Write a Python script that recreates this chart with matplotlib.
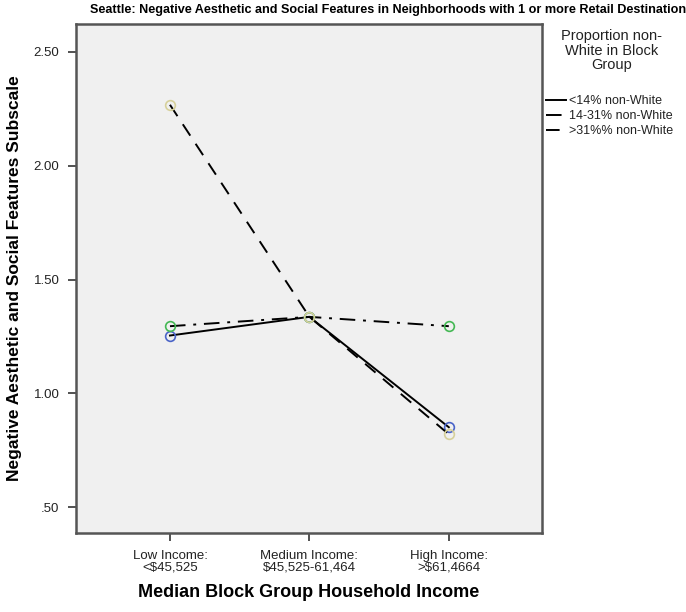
import matplotlib.pyplot as plt

plt.rcParams['font.family'] = ['Liberation Sans', 'DejaVu Sans']

# данные
categories = ["Low Income:\n<$45,525", "Medium Income:\n$45,525-61,464", "High Income:\n>$61,4664"]
groups = ["<14% non-White", "14-31% non-White", ">31%% non-White"]
under_14 = [1.254, 1.336, 0.851]
from_14_to_31 = [1.295, 1.336, 1.295]
over_31 = [2.268, 1.336, 0.820]
y_ticks = [0.5, 1.0, 1.5, 2.0, 2.5]
y_tick_labels = [".50", "1.00", "1.50", "2.00", "2.50"]

series = [under_14, from_14_to_31, over_31]
line_styles = ['-', (0, (8, 4, 1.5, 4)), (0, (7, 5))]
marker_colors = ['#4a64c8', '#44b854', '#d6d09a']

fig = plt.figure(figsize=(6.86, 6.12), dpi=100)
ax = fig.add_axes([0.1108, 0.129, 0.679, 0.8318])
ax.set_facecolor('#f0f0f0')

x = list(range(len(categories)))
handles = []
for vals, ls, mc, name in zip(series, line_styles, marker_colors, groups):
    line, = ax.plot(x, vals, color='black', linestyle=ls, linewidth=1.4, label=name)
    ax.plot(x, vals, linestyle='none', marker='o', markersize=7, markerfacecolor='none',
            markeredgecolor=mc, markeredgewidth=1.2)
    handles.append(line)

ax.set_xlim(-0.674, 2.667)
ax.set_ylim(0.386, 2.623)
ax.set_xticks(x)
ax.set_xticklabels(categories, fontsize=9.5, color='#222222', linespacing=0.95)
ax.set_yticks(y_ticks)
ax.set_yticklabels(y_tick_labels, fontsize=9.5, color='#222222')
ax.tick_params(axis='both', length=6, width=1.2, color='#333333', pad=6)
for s in ax.spines.values():
    s.set_linewidth(1.8)
    s.set_color('#555555')

ax.set_xlabel("Median Block Group Household Income", fontsize=13, fontweight='bold', labelpad=8)
ax.set_ylabel("Negative Aesthetic and Social Features Subscale", fontsize=12.5, fontweight='bold', labelpad=8)

fig.text(0.565, 0.983, "Seattle: Negative Aesthetic and Social Features in Neighborhoods with 1 or more Retail Destination",
         ha='center', va='center', fontsize=9.1, fontweight='bold')

fig.text(0.892, 0.952, "Proportion non-\nWhite in Block\nGroup", ha='center', va='top',
         fontsize=10.5, color='#222222', linespacing=1.05)

leg = fig.legend(handles=handles, labels=groups, loc='upper left', bbox_to_anchor=(0.787, 0.855),
                 frameon=False, fontsize=9, handlelength=1.6, handletextpad=0.2,
                 labelspacing=0.25, borderpad=0)
for t in leg.get_texts():
    t.set_color('#222222')

fig.savefig('out.png', dpi=100)
